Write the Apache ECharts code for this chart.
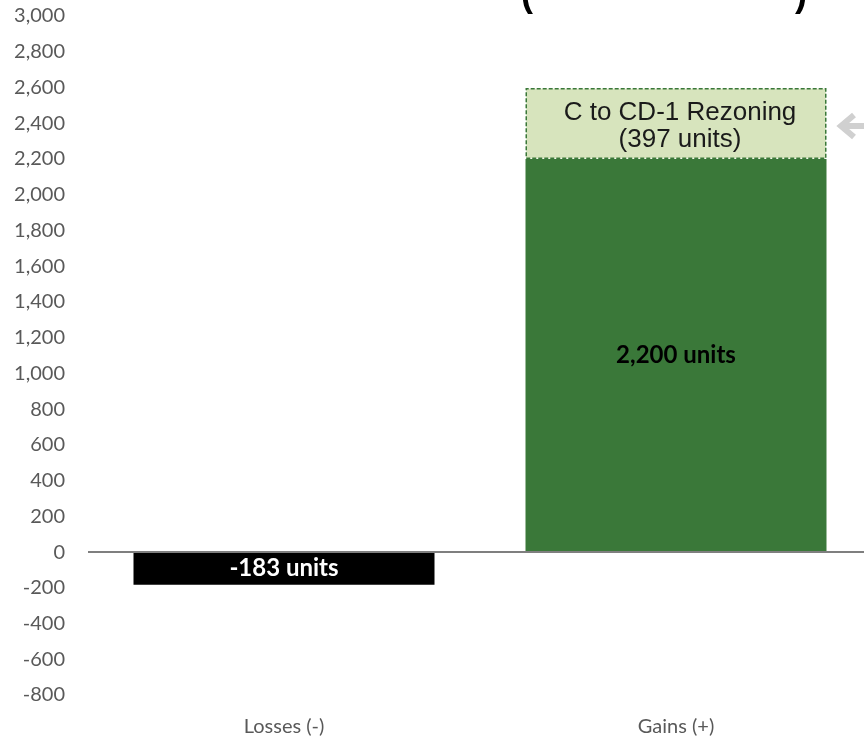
<!DOCTYPE html>
<html>
    <head>
        <meta charset="utf-8">
        <title>Units</title>
        <script src="https://cdn.jsdelivr.net/npm/echarts@6/dist/echarts.min.js"></script>
        <style>
            html, body { margin: 0; background: #fff; overflow: hidden; }
            /* the plot runs a little past the right edge of the picture */
            #chart1 { width: 872px; height: 738px; }
        </style>
    </head>
    <body>
        <div id="chart1"></div>
        <script type="text/javascript">
            // data
            var categories = ['Losses (-)', 'Gains (+)'];
            var baseValues = [-183, 2200];
            var baseLabels = ['-183 units', '2,200 units'];
            var rezoningValues = ['-', 397];
            var rezoningLabel = 'C to CD-1 Rezoning\n(397 units)';
            var yMin = -800, yMax = 3000, yStep = 200;

            var myChart1 = echarts.init(document.getElementById('chart1'));

            var option = {
                animation: false,
                grid: { left: 88, right: 0, top: 16, bottom: 43 },
                xAxis: {
                    type: 'category',
                    data: categories,
                    axisLine: { show: false, onZero: false },
                    axisTick: { show: false },
                    axisLabel: { color: '#595959', fontSize: 20, fontFamily: 'Lato', margin: 22 }
                },
                yAxis: {
                    type: 'value',
                    min: yMin, max: yMax, interval: yStep,
                    splitLine: { show: false },
                    axisLine: { show: false },
                    axisTick: { show: false },
                    axisLabel: {
                        color: '#595959', fontSize: 20, fontFamily: 'Lato', margin: 23,
                        formatter: function (v) { return v.toLocaleString('en-US'); }
                    }
                },
                series: [{
                    type: 'bar',
                    stack: 'total',
                    barWidth: 301,
                    data: baseValues.map(function (v, i) {
                        return {
                            value: v,
                            itemStyle: { color: i === 0 ? '#000000' : '#3a7839' },
                            label: { color: i === 0 ? '#ffffff' : '#000000' }
                        };
                    }),
                    label: {
                        show: true, position: 'inside',
                        fontSize: 24, fontWeight: 'bold', fontFamily: 'Lato',
                        formatter: function (p) { return baseLabels[p.dataIndex]; }
                    },
                    markLine: {
                        silent: true, symbol: 'none',
                        label: { show: false },
                        lineStyle: { color: '#7f7f7f', width: 2, type: 'solid' },
                        data: [{ yAxis: 0 }]
                    }
                }, {
                    type: 'bar',
                    stack: 'total',
                    barWidth: 301,
                    data: rezoningValues,
                    itemStyle: {
                        color: '#d7e4bd', borderColor: '#3a7839', borderWidth: 1.5, borderType: [4, 2]
                    },
                    label: {
                        show: true, position: 'inside', offset: [4, 3],
                        fontSize: 26, fontFamily: 'Liberation Sans', color: '#1a1a1a', lineHeight: 27,
                        formatter: function () { return rezoningLabel; }
                    }
                }],
                graphic: [{
                    type: 'text', left: 521, top: -22,
                    style: { text: '(', font: 'bold 36px "Liberation Sans"', fill: '#000' }
                }, {
                    type: 'text', left: 795, top: -22,
                    style: { text: ')', font: 'bold 36px "Liberation Sans"', fill: '#000' }
                }, {
                    type: 'polyline',
                    shape: { points: [[854, 115], [841, 126], [854, 137]] },
                    style: { stroke: '#d0d0d0', lineWidth: 6, fill: null }
                }, {
                    type: 'line',
                    shape: { x1: 843, y1: 126, x2: 872, y2: 126 },
                    style: { stroke: '#d0d0d0', lineWidth: 6 }
                }]
            };

            myChart1.setOption(option);
        </script>
    </body>
</html>
